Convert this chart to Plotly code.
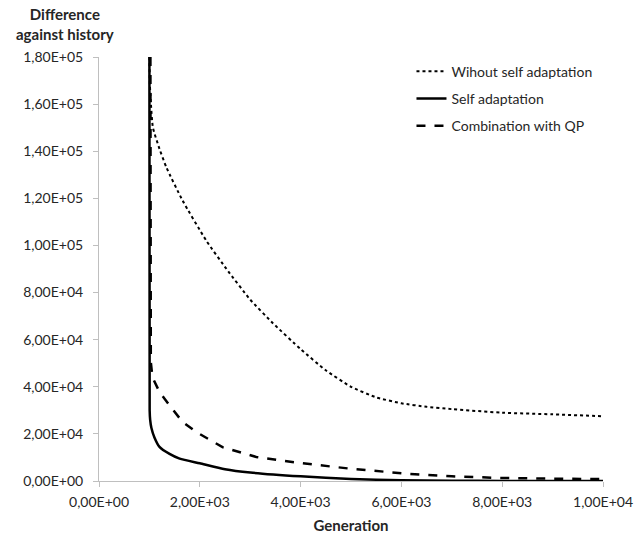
import plotly.graph_objects as go

# Data
x_without = [1000, 1010, 1030, 1070, 1200, 1340, 1660, 2130, 2530, 3000, 3450, 4000, 4500, 5000, 5500, 6000, 6500, 7000, 8000, 9000, 10000]
y_without = [180000, 168000, 160000, 150000, 141000, 133000, 119000, 102000, 90000, 77000, 67000, 56000, 47000, 40000, 35500, 33000, 31500, 30500, 29000, 28300, 27500]

x_self = [1000, 1005, 1015, 1040, 1100, 1200, 1400, 1600, 2000, 2500, 3000, 4000, 5000, 6000, 7000, 8000, 10000]
y_self = [180000, 30000, 26000, 22500, 18500, 14500, 11500, 9500, 7500, 5000, 3600, 2000, 900, 300, 100, 50, 0]

x_qp = [1020, 1028, 1060, 1200, 1440, 1660, 1930, 2450, 3120, 4000, 5040, 6170, 7000, 7950, 9000, 10000]
y_qp = [180000, 50500, 44000, 37800, 31000, 25000, 20800, 14400, 10200, 7600, 5100, 3000, 2000, 1300, 1000, 800]

names = ["Wihout self adaptation", "Self adaptation", "Combination with QP"]

x_tickvals = [0, 2000, 4000, 6000, 8000, 10000]
x_ticktext = ["0,00E+00", "2,00E+03", "4,00E+03", "6,00E+03", "8,00E+03", "1,00E+04"]
y_tickvals = [0, 20000, 40000, 60000, 80000, 100000, 120000, 140000, 160000, 180000]
y_ticktext = ["0,00E+00", "2,00E+04", "4,00E+04", "6,00E+04", "8,00E+04", "1,00E+05",
              "1,20E+05", "1,40E+05", "1,60E+05", "1,80E+05"]

fig = go.Figure()
fig.add_trace(go.Scatter(x=x_without, y=y_without, mode="lines", name=names[0], legendgroup="a",
                         line=dict(color="black", width=2, dash="dot", shape="spline", smoothing=0.5)))
fig.add_trace(go.Scatter(x=x_self, y=y_self, mode="lines", name=names[1], legendgroup="b",
                         line=dict(color="black", width=2.5, shape="spline", smoothing=0.6)))
fig.add_trace(go.Scatter(x=x_qp, y=y_qp, mode="lines", name=names[2], legendgroup="c",
                         line=dict(color="black", width=2.5, dash="dash")))

font_family = "Lato, Liberation Sans, Arial, sans-serif"
W, H = 644, 535
ML, MR, MT, MB = 99, 41, 57, 54
plot_w = W - ML - MR
plot_h = H - MT - MB

fig.update_layout(
    width=W, height=H,
    margin=dict(l=ML, r=MR, t=MT, b=MB),
    paper_bgcolor="white", plot_bgcolor="white",
    font=dict(family=font_family, size=14, color="#262626"),
    showlegend=True,
    legend=dict(x=0.62, y=1.003, xanchor="left", yanchor="top", bgcolor="rgba(0,0,0,0)",
                font=dict(size=14, color="#262626"), tracegroupgap=6),
    xaxis=dict(range=[0, 10000], tickvals=x_tickvals, ticktext=x_ticktext, automargin=False,
               showgrid=False, zeroline=False, showline=True, linecolor="#bfbfbf", linewidth=1,
               ticks="outside", ticklen=5, tickcolor="#bfbfbf", ticklabelstandoff=3,
               title=dict(text="<b>Generation</b>", font=dict(size=15, color="#262626"), standoff=11)),
    yaxis=dict(range=[0, 180000], tickvals=y_tickvals, ticktext=y_ticktext, automargin=False,
               showgrid=False, zeroline=False, showline=True, linecolor="#bfbfbf", linewidth=1,
               ticks="outside", ticklen=5, tickcolor="#bfbfbf", ticklabelstandoff=7),
    annotations=[dict(text="<b>Difference<br>against history</b>",
                      x=(65 - ML) / plot_w, y=(481 - 24) / plot_h,
                      xref="paper", yref="paper", xanchor="center", yanchor="middle",
                      showarrow=False, font=dict(size=15, color="#262626"))],
)

fig.write_html("out.html", config={"displayModeBar": False},
               post_script="document.body.style.margin='0';")
